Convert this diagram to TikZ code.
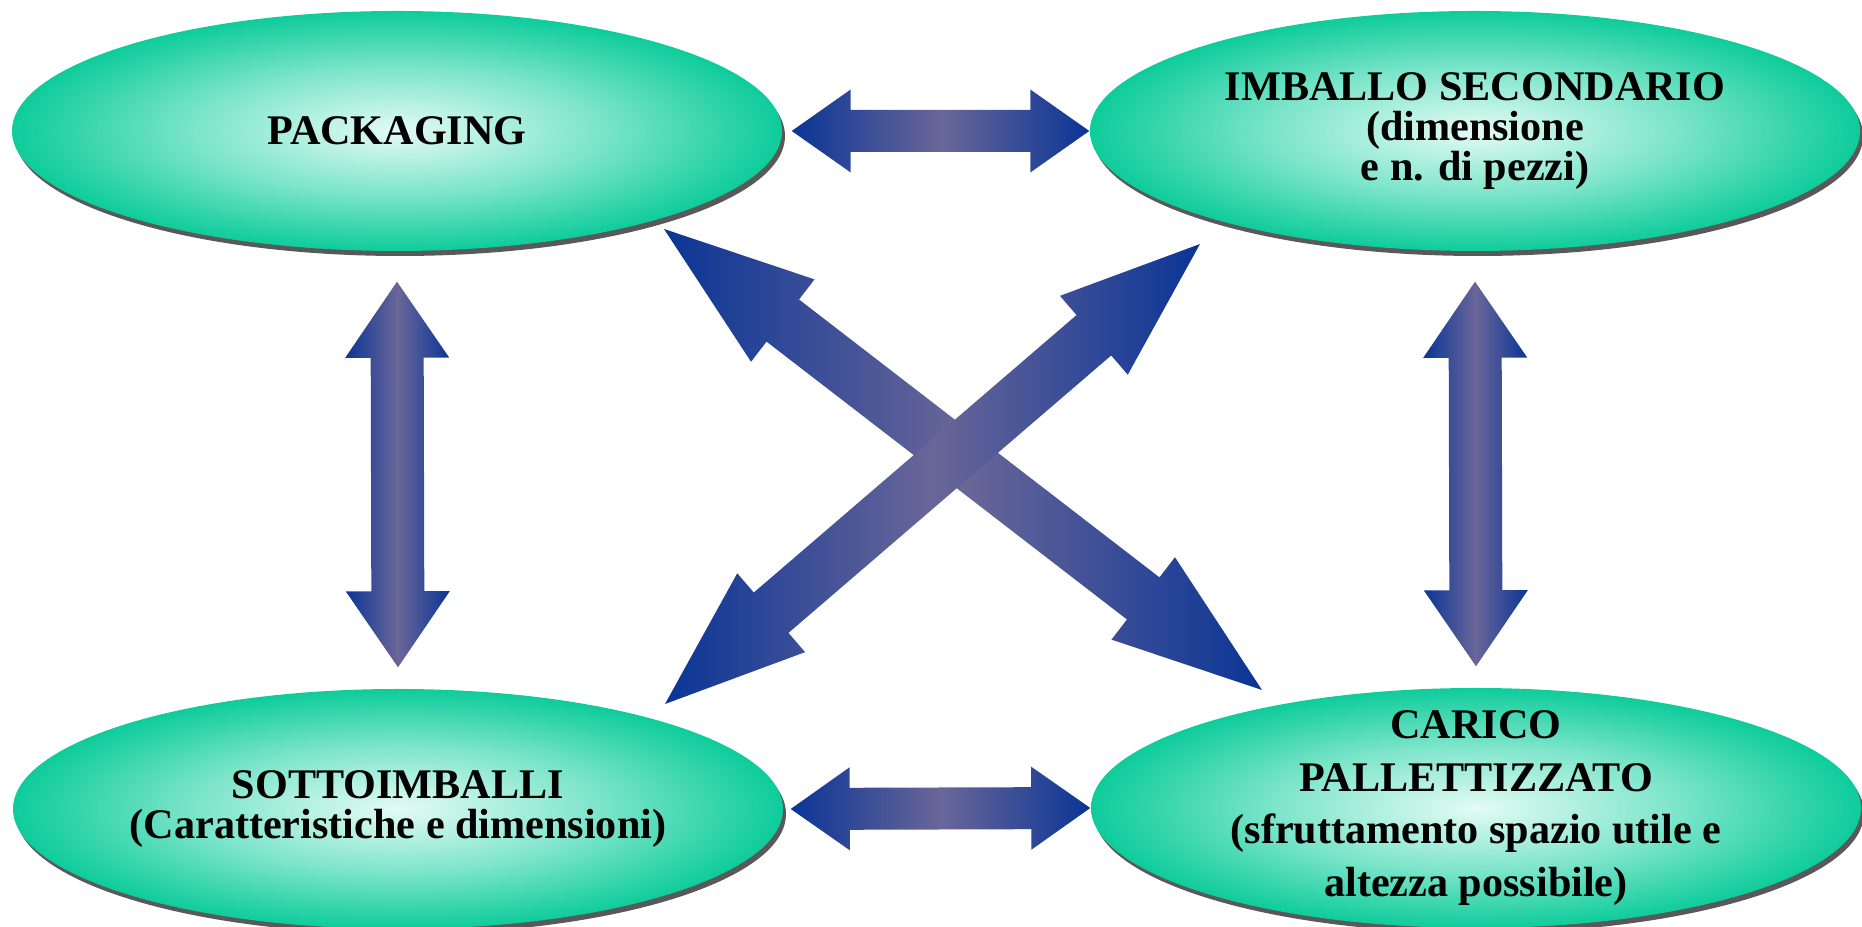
\documentclass[tikz,border=0pt]{standalone}
\usepackage{fontspec}
\setmainfont{Liberation Serif}
\usetikzlibrary{shapes.geometric,shadows,calc}

\definecolor{mintedge}{RGB}{14,204,155}
\definecolor{mintmid}{RGB}{125,229,202}
\definecolor{mintcore}{RGB}{228,251,244}
\definecolor{arrowblue}{RGB}{10,53,150}
\definecolor{arrowmid}{RGB}{106,102,152}

\pgfdeclareradialshading{ovalshade}{\pgfpointorigin}{color(0bp)=(mintcore); color(13bp)=(mintmid); color(25bp)=(mintedge); color(50bp)=(mintedge)}

\newcommand\blockarrow[5]{%
  \shade[arrowshade] (#1)
    -- ($(#1)!#3!(#2)!#4!90:(#2)$)
    -- ($(#1)!#3!(#2)!#5!90:(#2)$)
    -- ($(#2)!#3!(#1)!#5!-90:(#1)$)
    -- ($(#2)!#3!(#1)!#4!-90:(#1)$)
    -- (#2)
    -- ($(#2)!#3!(#1)!#4!90:(#1)$)
    -- ($(#2)!#3!(#1)!#5!90:(#1)$)
    -- ($(#1)!#3!(#2)!#5!-90:(#2)$)
    -- ($(#1)!#3!(#2)!#4!-90:(#2)$)
    -- cycle;}

\begin{document}
\begin{tikzpicture}[
  oval/.style={ellipse, shade, shading=ovalshade, minimum width=7.7cm, minimum height=2.4cm,
    inner xsep=0pt, inner ysep=-0.3cm, align=center,
    font=\bfseries\fontsize{12}{11.5}\selectfont,
    drop shadow={shadow xshift=0.03cm, shadow yshift=-0.05cm, fill=black!65, opacity=1}},
  arrowshade/.style={left color=arrowblue, right color=arrowblue, middle color=arrowmid}]
\useasboundingbox (0,0) rectangle (18.62,9.27);

\node[oval] at (3.97,7.96) (pack) {PACKAGING};
\node[oval] at (14.75,7.96) (imballo) {IMBALLO SECONDARIO\\(dimensione\\e n. di pezzi)};
\node[oval] at (3.98,1.18) (sotto) {SOTTOIMBALLI\\(Caratteristiche e dimensioni)};
\node[oval, font=\bfseries\fontsize{12}{15}\selectfont] at (14.76,1.19) (carico)
  {CARICO\\PALLETTIZZATO\\(sfruttamento spazio utile e\\altezza possibile)};

\coordinate (top-l) at ([xshift=0.09cm]pack.east);
\coordinate (top-r) at (imballo.west);
\coordinate (bot-l) at ([xshift=0.07cm]sotto.east);
\coordinate (bot-r) at (carico.west);
\coordinate (left-t) at ([yshift=-0.30cm]pack.south);
\coordinate (left-b) at ([yshift=0.21cm]sotto.north);
\coordinate (right-t) at ([yshift=-0.30cm]imballo.south);
\coordinate (right-b) at ([yshift=0.21cm]carico.north);
\coordinate (nw) at ($(pack.center)+(2.67,-0.98)$);
\coordinate (se) at ($(carico.center)+(-2.14,1.18)$);
\coordinate (sw) at ($(sotto.center)+(2.67,1.05)$);
\coordinate (ne) at ($(imballo.center)+(-2.75,-1.13)$);

\blockarrow{top-l}{top-r}{0.59cm}{0.415cm}{0.21cm}
\blockarrow{bot-l}{bot-r}{0.59cm}{0.415cm}{0.21cm}
\blockarrow{left-t}{left-b}{0.76cm}{0.52cm}{0.265cm}
\blockarrow{right-t}{right-b}{0.76cm}{0.52cm}{0.265cm}
\blockarrow{nw}{se}{1.5cm}{0.52cm}{0.266cm}
\blockarrow{sw}{ne}{1.4cm}{0.52cm}{0.266cm}
\end{tikzpicture}
\end{document}
